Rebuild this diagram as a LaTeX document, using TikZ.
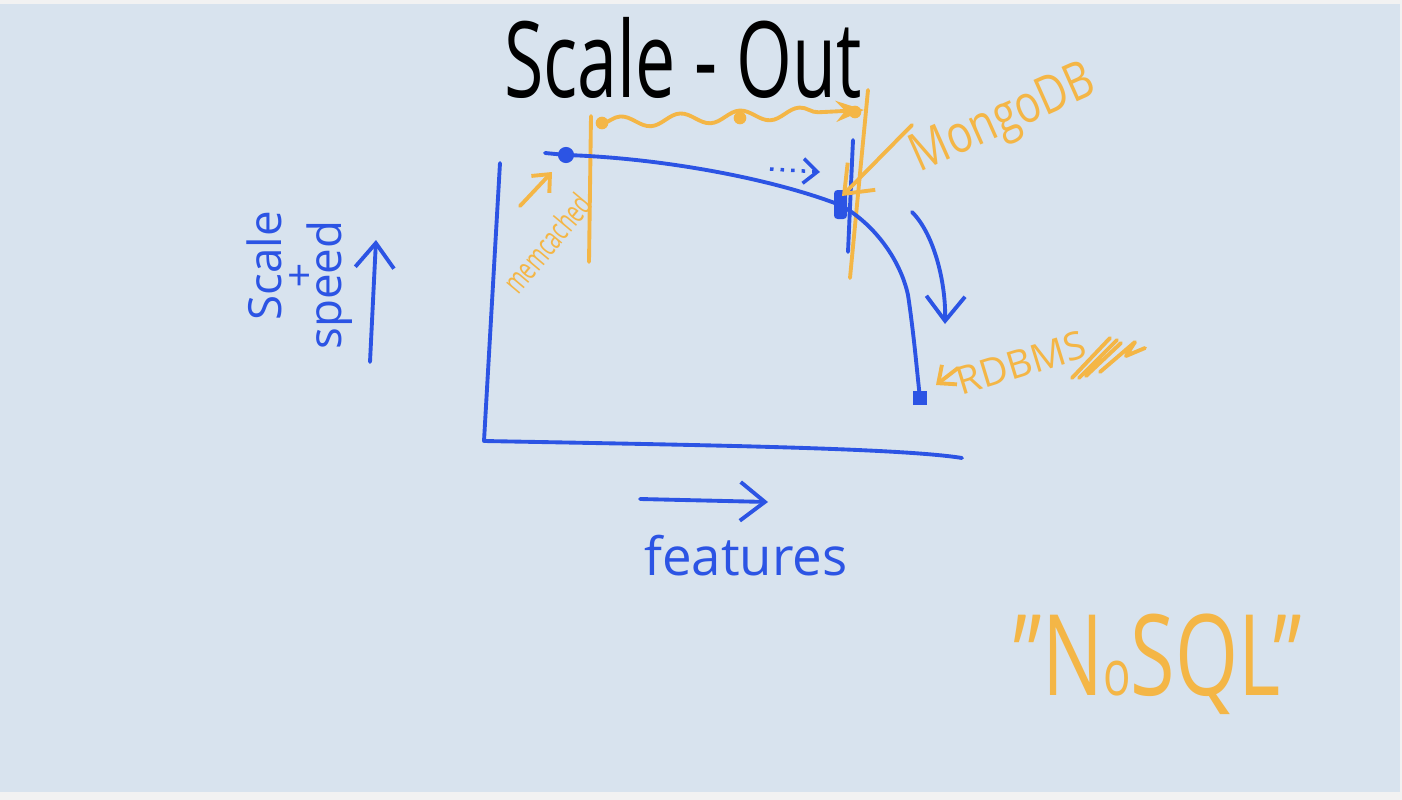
\documentclass[tikz,border=0pt]{standalone}
\usepackage{graphicx}
\usepackage{fontspec}
\setmainfont{Open Sans}
\usetikzlibrary{arrows.meta,decorations.pathmorphing}

\definecolor{pen}{RGB}{44,84,228}
\definecolor{marker}{RGB}{244,182,70}
\definecolor{board}{RGB}{216,227,238}
\definecolor{frame}{RGB}{242,242,242}

\begin{document}
\begin{tikzpicture}[x=0.01cm,y=-0.01cm,>=Stealth,
  ink/.style={pen,line width=1.1pt,line cap=round,line join=round},
  hi/.style={marker,line width=1.1pt,line cap=round,line join=round},
  barb/.style={-{Straight Barb[length=7pt,width=11pt]}},
  smallbarb/.style={-{Straight Barb[length=4pt,width=7pt]}},
  scrawl/.style={inner sep=0pt,font=\fontsize{#1}{#1}\selectfont}]

  % board
  \fill[frame] (0,0) rectangle (1402,800);
  \fill[board] (0,4) rectangle (1400,792);
  \useasboundingbox (0,0) rectangle (1402,800);

  \coordinate (yaxis) at (500,163);
  \coordinate (origin) at (484,441);
  \coordinate (xaxis) at (962,458);
  \coordinate (m0) at (545,153);
  \coordinate (mdot) at (566,155);
  \coordinate (mongo) at (840,205);
  \coordinate (bend) at (908,295);
  \coordinate (rdbms) at (920,398);

  % orange marks
  \draw[hi] (591,116) -- (589,262);
  \draw[hi] (868,90) -- (850,278);
  \coordinate (w0) at (602,123);
  \coordinate (w1) at (864,110);
  \draw[hi,->,decorate,decoration={snake,amplitude=1.6pt,segment length=17pt,post length=6pt}]
    (w0) -- (w1);
  \foreach \p in {(602,123),(740,118),(855,112)}
    \fill[marker] \p circle (1.8pt);

  % axes
  \draw[ink] (yaxis) -- (origin) .. controls (700,445) and (900,448) .. (xaxis);

  % the curve
  \draw[ink] (m0) -- (mdot) .. controls (660,158) and (770,178) .. (mongo)
    .. controls (872,222) and (900,258) .. (bend)
    .. controls (914,335) and (917,372) .. (rdbms);
  \fill[pen] (mdot) circle (2.3pt);
  \fill[pen,rounded corners=1pt] (mongo) +(-6,-15) rectangle +(7,14);
  \fill[pen] (rdbms) +(-7,-7) rectangle +(7,7);
  \draw[ink] (853,140) -- (848,252);

  % blue arrows
  \coordinate (dt0) at (770,169);
  \coordinate (dt1) at (820,172);
  \draw[pen,line width=1pt,dotted,smallbarb] (dt0) -- (dt1);
  \coordinate (da0) at (912,212);
  \coordinate (da1) at (945,324);
  \draw[ink,barb] (da0) .. controls (935,235) and (946,285) .. (da1);
  \coordinate (sa0) at (370,362);
  \coordinate (sa1) at (376,240);
  \draw[ink,barb] (sa0) -- (sa1);
  \coordinate (fa0) at (640,499);
  \coordinate (fa1) at (768,502);
  \draw[ink,barb] (fa0) -- (fa1);

  % orange arrows
  \coordinate (ma0) at (520,206);
  \coordinate (ma1) at (552,172);
  \draw[hi,smallbarb] (ma0) -- (ma1);
  \coordinate (ga0) at (912,125);
  \coordinate (ga1) at (842,196);
  \draw[hi,barb] (ga0) -- (ga1);
  \coordinate (ra0) at (958,368);
  \coordinate (ra1) at (936,385);
  \draw[hi,smallbarb] (ra0) -- (ra1);

  % scribble next to RDBMS
  \draw[hi] (1072,378) -- (1110,338) (1079,378) -- (1117,340) (1086,376) -- (1121,343)
    (1100,372) -- (1135,342) -- (1126,356) -- (1145,348);

  % text
  \node[scrawl=30] (title) at (683,58) {\scalebox{0.68}[1]{Scale - Out}};
  \node[scrawl=15,text=pen] (features) at (746,556) {features};
  \node[scrawl=13,text=pen,rotate=90] (scale) at (264,266) {Scale};
  \node[scrawl=12,text=pen] (plus) at (300,278) {+};
  \node[scrawl=13,text=pen,rotate=90] (speed) at (330,285) {speed};
  \node[scrawl=9,text=marker,rotate=50] (memcached) at (547,243) {\scalebox{0.65}[1]{memcached}};
  \node[scrawl=15,text=marker,rotate=24] (mongodb) at (1004,121) {\scalebox{0.8}[1]{MongoDB}};
  \node[scrawl=11,text=marker,rotate=17] (rdbmslabel) at (1021,363) {RDBMS};
  \node[scrawl=32,text=marker] (nosql) at (1158,664)
    {\scalebox{0.72}[1]{"N{\fontsize{18}{18}\selectfont o}SQL"}};
\end{tikzpicture}
\end{document}
